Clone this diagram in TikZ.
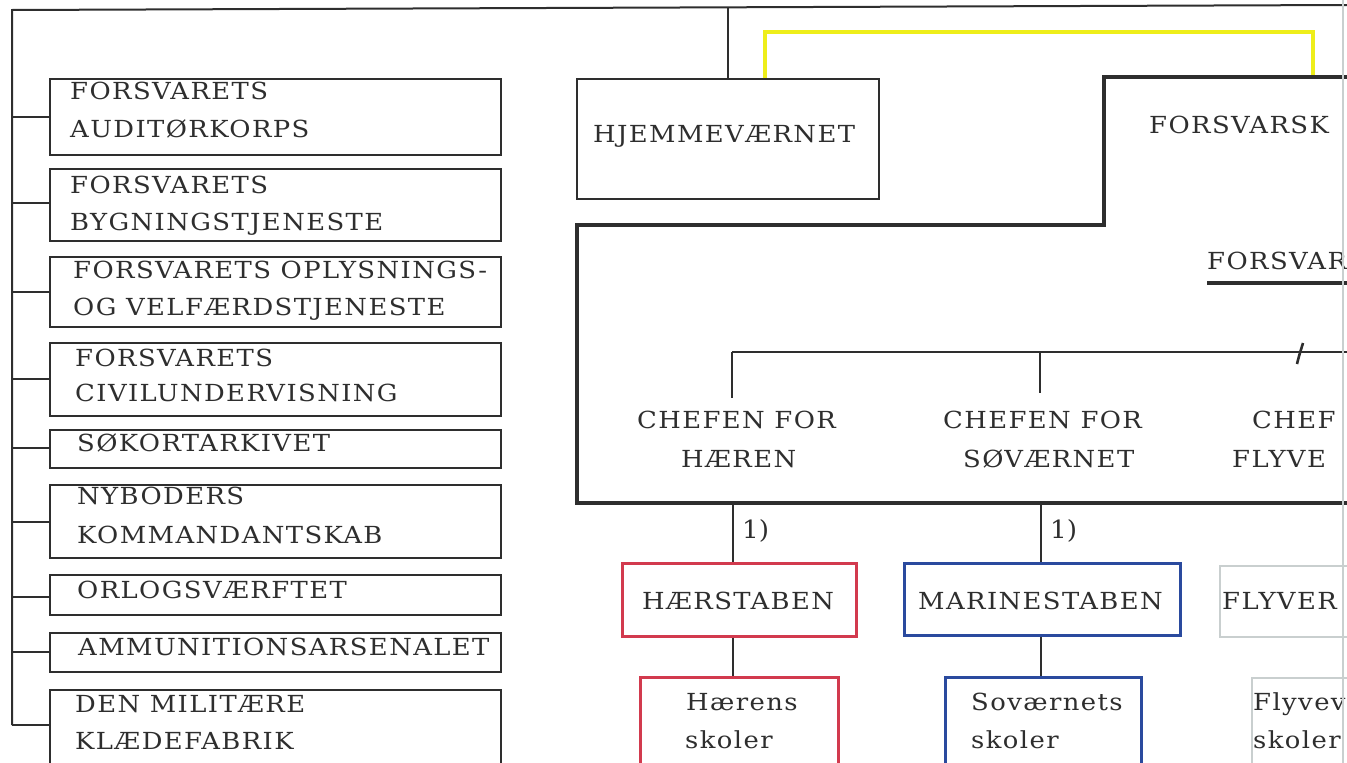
\documentclass[tikz,border=0pt]{standalone}
\usepackage{fontspec}
\setmainfont{DejaVu Serif}[LetterSpace=6,FakeStretch=1.1]
\newfontfamily\plainfont{DejaVu Serif}[FakeStretch=1.05]
\definecolor{ink}{HTML}{2E2E2E}
\definecolor{redb}{HTML}{D23A4E}
\definecolor{blueb}{HTML}{2A4A9E}
\definecolor{paleb}{HTML}{C9CFCF}
\definecolor{yel}{HTML}{EEEE1A}
\begin{document}
\begin{tikzpicture}[x=1pt,y=-1pt,
  box/.style={draw=ink, line width=2, inner sep=0, fill=none},
  lbox/.style={box, minimum width=451},
  rbox/.style={draw=redb, line width=3, inner sep=0},
  bbox/.style={draw=blueb, line width=3, inner sep=0},
  gbox/.style={draw=paleb, line width=2.2, inner sep=0},
  txt/.style={anchor=base west, inner sep=0, text=ink, font=\fontsize{23.5}{28}\selectfont},
  ntxt/.style={anchor=base west, inner sep=0, text=ink, font=\plainfont\fontsize{25}{28}\selectfont},
  conn/.style={draw=ink, line width=2},
  thickl/.style={draw=ink, line width=3.6}]
\useasboundingbox (0,0) rectangle (1347,763);
\clip (0,0) rectangle (1347,763);

% ---------- left column ----------
\coordinate (tl) at (12,10);
\coordinate (tr) at (1347,5);
\node[lbox, minimum height=76] (b1) at (275.5,117) {};
\node[lbox, minimum height=72] (b2) at (275.5,205) {};
\node[lbox, minimum height=70] (b3) at (275.5,292) {};
\node[lbox, minimum height=73] (b4) at (275.5,379.5) {};
\node[lbox, minimum height=38] (b5) at (275.5,449) {};
\node[lbox, minimum height=73] (b6) at (275.5,521.5) {};
\node[lbox, minimum height=40] (b7) at (275.5,595) {};
\node[lbox, minimum height=39] (b8) at (275.5,652.5) {};
\node[lbox, minimum height=100] (b9) at (275.5,740) {};

\coordinate (s1) at (12,117);
\coordinate (s2) at (12,203);
\coordinate (s3) at (12,292);
\coordinate (s4) at (12,379);
\coordinate (s5) at (12,448);
\coordinate (s6) at (12,522);
\coordinate (s7) at (12,597);
\coordinate (s8) at (12,652);
\coordinate (s9) at (12,725);

\draw[conn] (tr) -- (tl) -- (s9);
\foreach \i in {1,...,9} { \draw[conn] (s\i) -- (s\i -| b\i.west); }

\node[txt] (t1a) at (70,99) {FORSVARETS};
\node[txt] (t1b) at (70,137) {AUDITØRKORPS};
\node[txt] (t2a) at (70,193) {FORSVARETS};
\node[txt] (t2b) at (70,230) {BYGNINGSTJENESTE};
\node[txt] (t3a) at (73,278) {FORSVARETS OPLYSNINGS-};
\node[txt] (t3b) at (73,315) {OG VELFÆRDSTJENESTE};
\node[txt] (t4a) at (75,366) {FORSVARETS};
\node[txt] (t4b) at (75,401) {CIVILUNDERVISNING};
\node[txt] (t5a) at (77,451) {SØKORTARKIVET};
\node[txt] (t6a) at (77,504) {NYBODERS};
\node[txt] (t6b) at (77,543) {KOMMANDANTSKAB};
\node[txt] (t7a) at (77,598) {ORLOGSVÆRFTET};
\node[txt] (t8a) at (78,655) {AMMUNITIONSARSENALET};
\node[txt] (t9a) at (75,712) {DEN MILITÆRE};
\node[txt] (t9b) at (75,749) {KLÆDEFABRIK};

% ---------- Hjemmeværnet ----------
\node[box, minimum width=302, minimum height=120] (hjem) at (728,139) {};
\node[txt] (thjem) at (593,142) {HJEMMEVÆRNET};
\draw[conn] (hjem.north) -- (728,8);

% yellow link
\coordinate (ya) at (765,32);
\coordinate (yb) at (1313,77);
\draw[yel, line width=3.5] (ya |- hjem.north) -- (ya) -| (yb);

% ---------- Forsvarskommandoen frame ----------
\draw[thickl] (1347,77) -- (1104,77) -- (1104,225) -- (577,225) -- (577,503) -- (1347,503);
\node[txt] (tfk) at (1149,133) {FORSVARSK};
\node[txt] (tfs) at (1207,269) {FORSVAR};
\coordinate (u1) at (1207,283);
\draw[thickl] (u1) -- (1347,283);

% chiefs
\coordinate (h1) at (732,352);
\coordinate (h2) at (1040,352);
\draw[conn] (h1) -- (1347,352);
\draw[conn] (h1) -- ++(0,46);
\draw[conn] (h2) -- ++(0,41);
\draw[ink, line width=2.6] (1297,364) .. controls (1299,356) .. (1303,343);

\node[txt] (ch1a) at (637,428) {CHEFEN FOR};
\node[txt] (ch1b) at (681,467) {HÆREN};
\node[txt] (ch2a) at (943,428) {CHEFEN FOR};
\node[txt] (ch2b) at (963,467) {SØVÆRNET};
\node[txt] (ch3a) at (1252,428) {CHEF};
\node[txt] (ch3b) at (1232,467) {FLYVE};

% staffs
\coordinate (c1) at (733,503);
\coordinate (c2) at (1041,503);
\node[rbox, minimum width=234, minimum height=73] (hst) at (739,599.5) {};
\node[bbox, minimum width=276, minimum height=72] (mst) at (1042,599) {};
\node[gbox, minimum width=140, minimum height=71] (fst) at (1290,601.5) {};
\node[txt] (thst) at (642,609) {HÆRSTABEN};
\node[txt] (tmst) at (918,609) {MARINESTABEN};
\node[txt] (tfst) at (1222,609) {FLYVER};
\draw[conn] (c1) -- (c1 |- hst.north);
\draw[conn] (c2) -- (c2 |- mst.north);
\node[ntxt] (n1) at (742,538) {1)};
\node[ntxt] (n2) at (1050,538) {1)};

% schools
\node[rbox, minimum width=198, minimum height=98] (hsk) at (739,726) {};
\node[bbox, minimum width=196, minimum height=98] (ssk) at (1043,726) {};
\node[gbox, minimum width=108, minimum height=97] (fsk) at (1306,726.5) {};
\draw[conn] (hst.south -| c1) -- (c1 |- hsk.north);
\draw[conn] (mst.south -| c2) -- (c2 |- ssk.north);
\node[txt] (thsa) at (686,710) {Hærens};
\node[txt] (thsb) at (685,748) {skoler};
\node[txt] (tssa) at (971,710) {Soværnets};
\node[txt] (tssb) at (971,748) {skoler};
\node[txt] (tfsa) at (1253,710) {Flyvev};
\node[txt] (tfsb) at (1253,748) {skoler};

% page edge
\draw[paleb, line width=1.5] (1343,0) -- (1343,763);
\end{tikzpicture}
\end{document}
